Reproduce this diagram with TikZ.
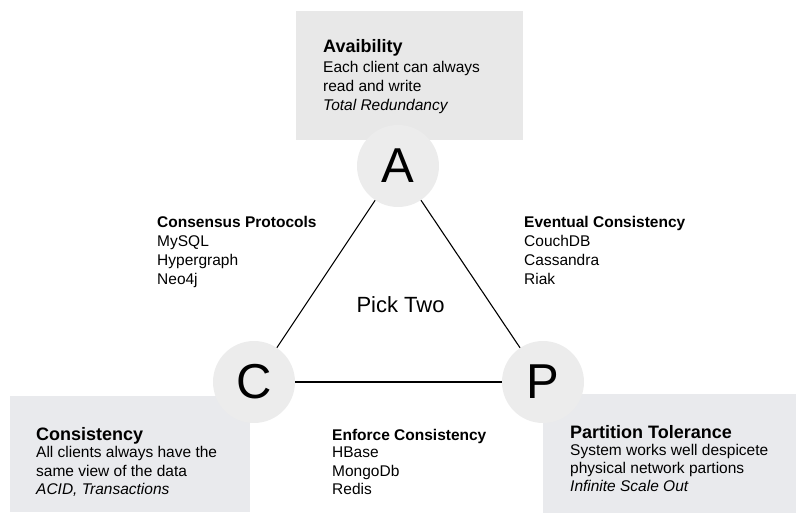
\documentclass[tikz,border=0pt]{standalone}
\usepackage{fontspec}
\setmainfont{Liberation Sans}
\usetikzlibrary{positioning}
\definecolor{boxgray}{HTML}{E8E8E8}
\definecolor{boxblue}{HTML}{E9EAED}
\definecolor{ballgray}{HTML}{ECECEC}

\begin{document}
\begin{tikzpicture}[x=1pt,y=-1pt,
  corner/.style={circle,fill=ballgray,minimum size=82pt,inner sep=0pt,font=\fontsize{49}{49}\selectfont},
  info/.style={align=left,anchor=base west,inner sep=0pt,font=\fontsize{15.5}{19}\selectfont},
  lowinfo/.style={info,font=\fontsize{15.5}{18}\selectfont},
  side/.style={black,line width=1.1pt}]

\useasboundingbox (0,0) rectangle (796,521);

\fill[boxgray] (296,11) rectangle (523,140);
\fill[boxblue] (10,396) rectangle (250,512);
\fill[boxblue] (543,394) rectangle (796,513);

\node[corner] (A) at (398,166) {A};
\node[corner] (C) at (254,382) {C};
\node[corner] (P) at (543,382) {P};

\draw[side] (A) -- (C);
\draw[side] (A) -- (P);
\draw[side] (C) -- (P);

\node[font=\fontsize{22}{22}\selectfont,anchor=base west] (pick) at (353,313) {Pick Two};

\node[info] (avail) at (323,111) {{\fontsize{18}{19}\selectfont\bfseries Avaibility}\\[1pt]
  Each client can always\\ read and write\\ \textit{Total Redundancy}};
\node[lowinfo] (consist) at (36,494) {{\fontsize{18}{18}\selectfont\bfseries Consistency}\\
  All clients always have the\\ same view of the data\\ \textit{ACID, Transactions}};
\node[lowinfo] (part) at (570,492) {{\fontsize{18}{18}\selectfont\bfseries Partition Tolerance}\\
  System works well despicete\\ physical network partions\\ \textit{Infinite Scale Out}};

\node[info] (consensus) at (157,285) {\textbf{Consensus Protocols}\\ MySQL\\ Hypergraph\\ Neo4j};
\node[info] (eventual) at (524,285) {\textbf{Eventual Consistency}\\ CouchDB\\ Cassandra\\ Riak};
\node[lowinfo] (enforce) at (332,494) {\textbf{Enforce Consistency}\\ HBase\\ MongoDb\\ Redis};

\end{tikzpicture}
\end{document}
